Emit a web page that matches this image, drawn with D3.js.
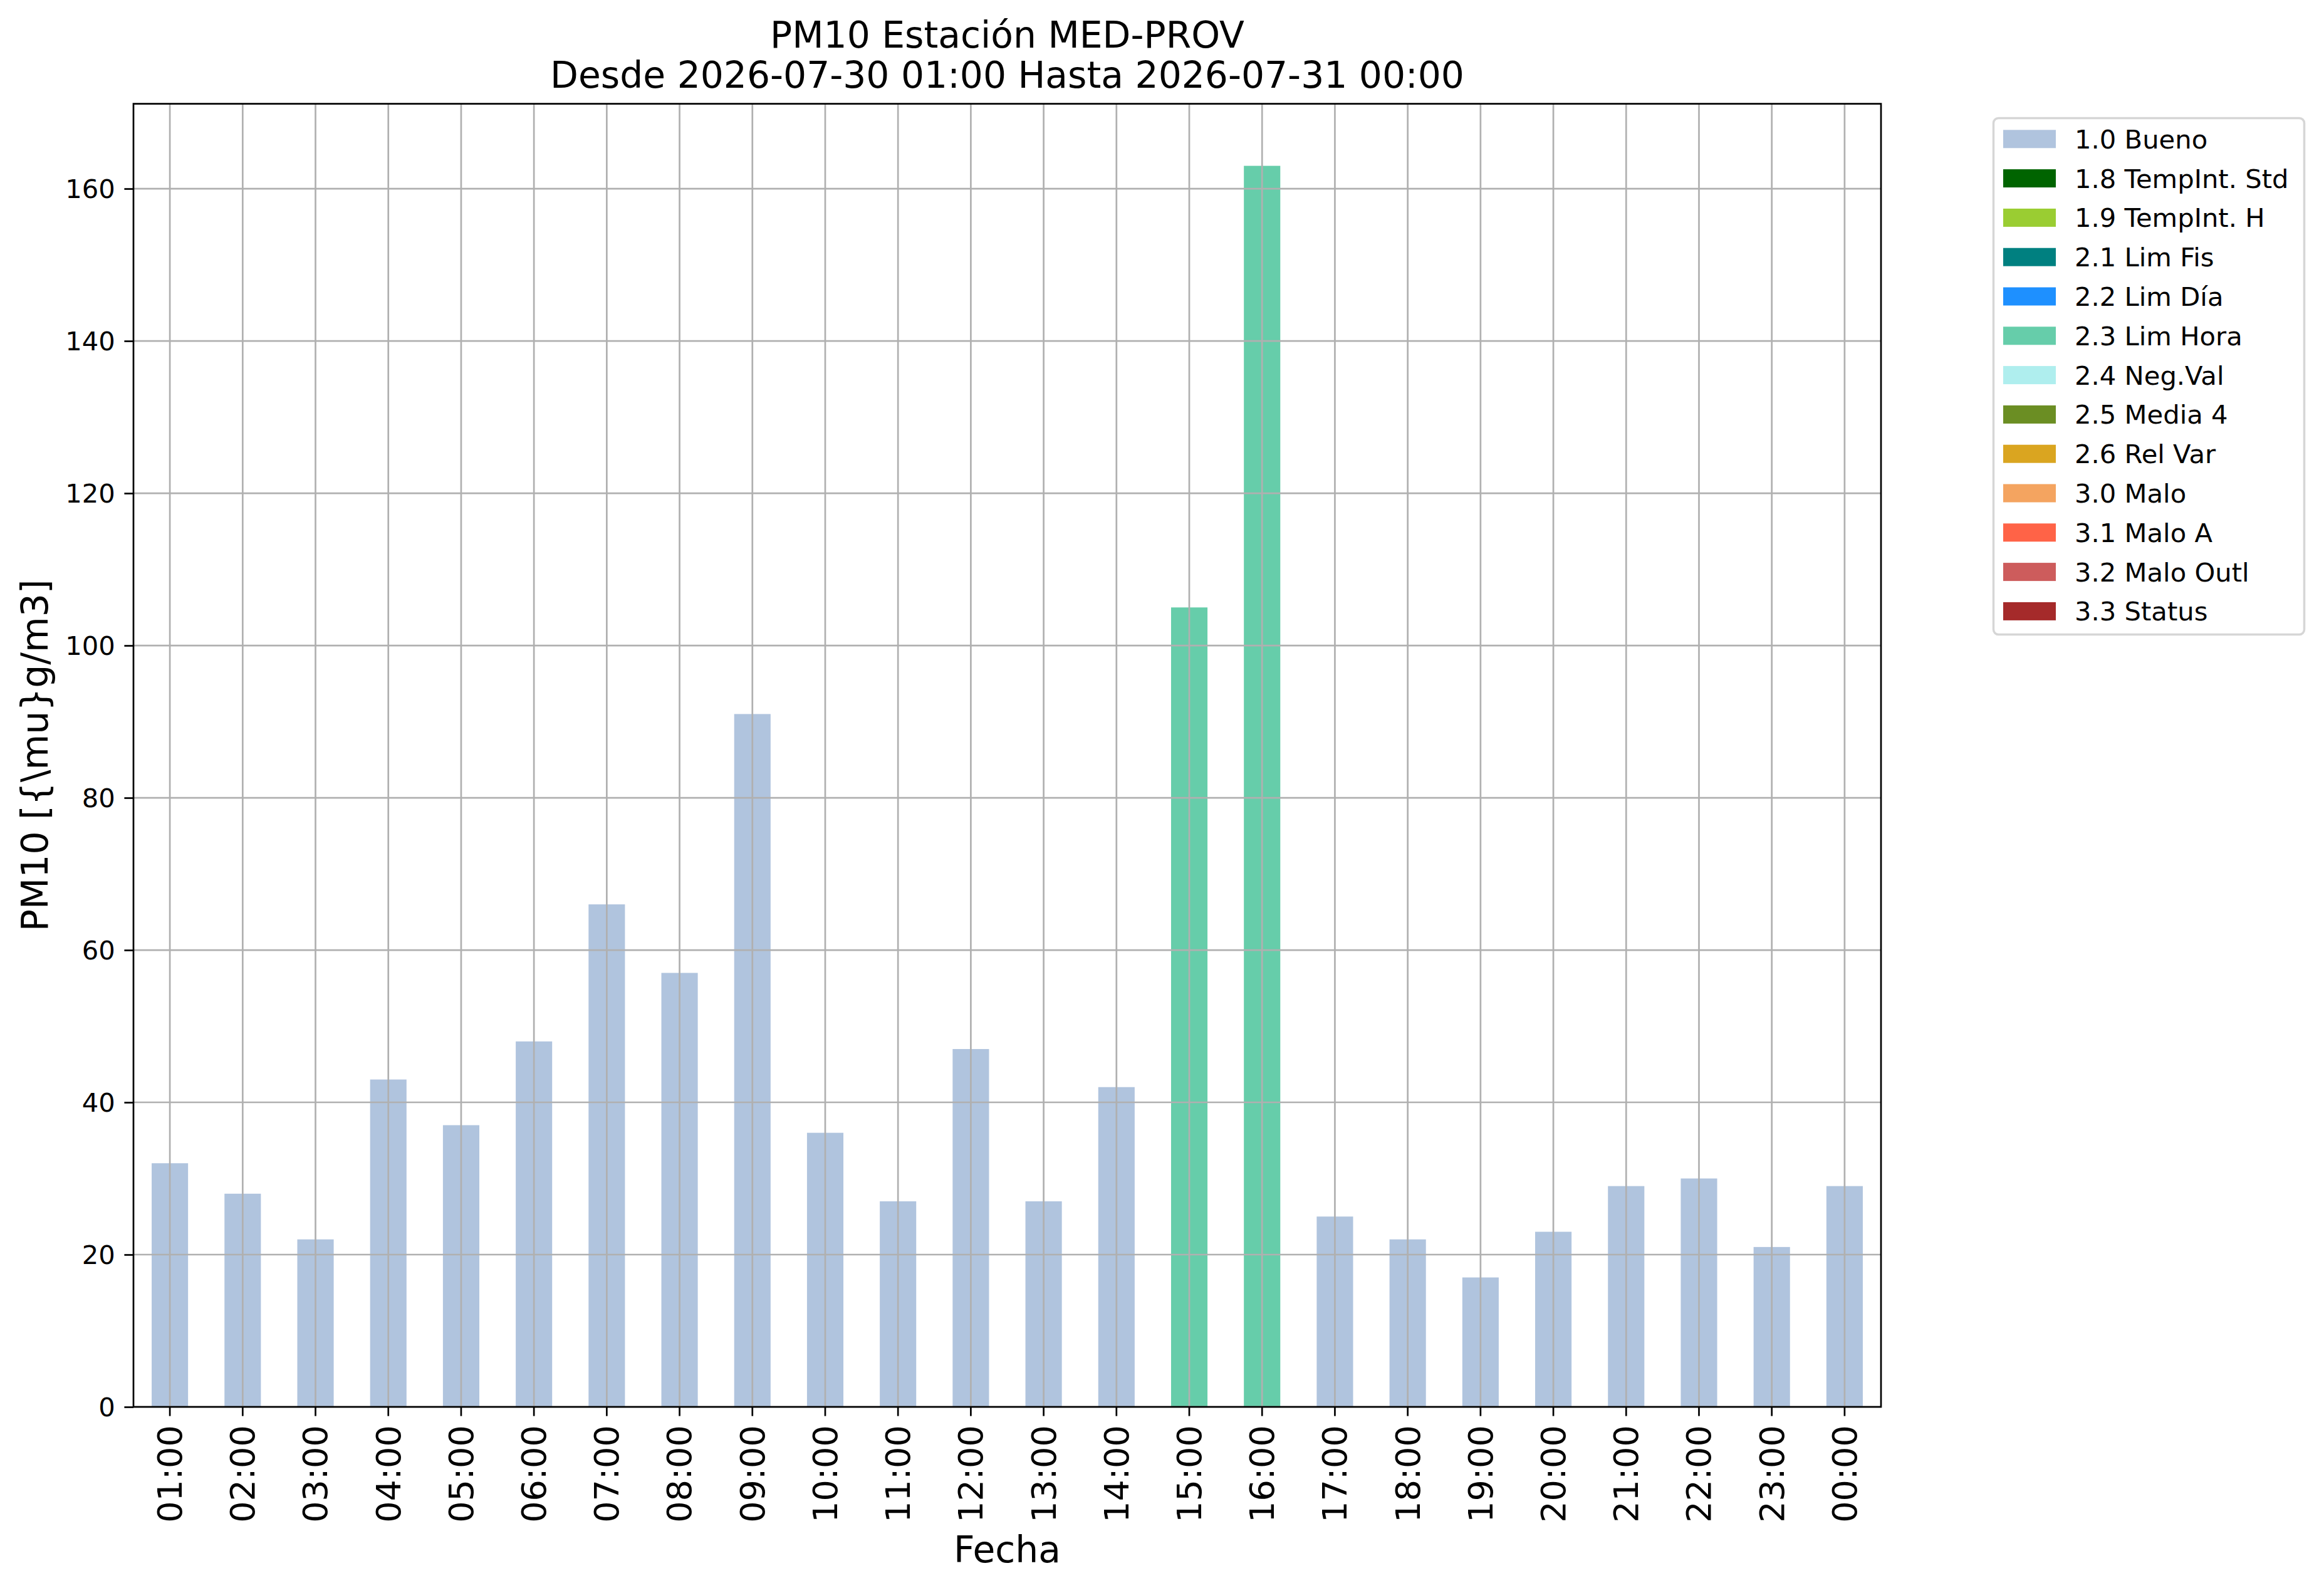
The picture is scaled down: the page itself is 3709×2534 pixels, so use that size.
<!DOCTYPE html>
<html>
<head>
<meta charset="utf-8">
<script src="https://cdn.jsdelivr.net/npm/d3@7"></script>
<style>
  html, body { margin: 0; padding: 0; background: #ffffff; }
  text { font-family: "DejaVu Sans", sans-serif; fill: #000; }
</style>
</head>
<body>
<svg id="chart" width="3709" height="2534"></svg>
<script>
// ---- data ----
const hours = ["01:00","02:00","03:00","04:00","05:00","06:00","07:00","08:00","09:00","10:00","11:00","12:00",
               "13:00","14:00","15:00","16:00","17:00","18:00","19:00","20:00","21:00","22:00","23:00","00:00"];
const pm10 = [32, 28, 22, 43, 37, 48, 66, 57, 91, 36, 27, 47, 27, 42, 105, 163, 25, 22, 17, 23, 29, 30, 21, 29];
const flags = ["1.0 Bueno","1.0 Bueno","1.0 Bueno","1.0 Bueno","1.0 Bueno","1.0 Bueno","1.0 Bueno","1.0 Bueno",
               "1.0 Bueno","1.0 Bueno","1.0 Bueno","1.0 Bueno","1.0 Bueno","1.0 Bueno","2.3 Lim Hora","2.3 Lim Hora",
               "1.0 Bueno","1.0 Bueno","1.0 Bueno","1.0 Bueno","1.0 Bueno","1.0 Bueno","1.0 Bueno","1.0 Bueno"];
const legendLabels = ["1.0 Bueno","1.8 TempInt. Std","1.9 TempInt. H","2.1 Lim Fis","2.2 Lim Día","2.3 Lim Hora",
                      "2.4 Neg.Val","2.5 Media 4","2.6 Rel Var","3.0 Malo","3.1 Malo A","3.2 Malo Outl","3.3 Status"];
const legendColors = ["#B0C4DE","#006400","#9ACD32","#008080","#1E90FF","#66CDAA",
                      "#AFEEEE","#6B8E23","#DAA520","#F4A460","#FF6347","#CD5C5C","#A52A2A"];
const yTicks = [0, 20, 40, 60, 80, 100, 120, 140, 160];
const titleLines = ["PM10 Estación MED-PROV", "Desde 2026-07-30 01:00 Hasta 2026-07-31 00:00"];
const xLabel = "Fecha";
const yLabel = "PM10 [{\\mu}g/m3]";

// ---- layout ----
const L = 213, R = 3002, T = 165.6, B = 2245;
const svg = d3.select("#chart");
svg.append("rect").attr("width", 3709).attr("height", 2534).attr("fill", "#fff");

const x = d3.scaleBand().domain(hours).range([L, R]).paddingInner(0.5).paddingOuter(0.25);
const y = d3.scaleLinear().domain([0, d3.max(pm10) * 1.05]).range([B, T]);
const color = d3.scaleOrdinal().domain(legendLabels).range(legendColors);

const data = hours.map((h, i) => ({ h, v: pm10[i], f: flags[i] }));

// bars
svg.append("g").selectAll("rect").data(data).join("rect")
  .attr("x", d => x(d.h))
  .attr("width", x.bandwidth())
  .attr("y", d => y(d.v))
  .attr("height", d => y(0) - y(d.v))
  .attr("fill", d => color(d.f));

// grid (drawn above bars)
const grid = svg.append("g").attr("stroke", "#b0b0b0").attr("stroke-width", 2.7);
grid.selectAll("line.v").data(hours).join("line").attr("class", "v")
  .attr("x1", d => x(d) + x.bandwidth() / 2).attr("x2", d => x(d) + x.bandwidth() / 2)
  .attr("y1", T).attr("y2", B);
grid.selectAll("line.h").data(yTicks).join("line").attr("class", "h")
  .attr("x1", L).attr("x2", R).attr("y1", d => y(d)).attr("y2", d => y(d));

// axes
const xAxis = d3.axisBottom(x).tickSizeOuter(0).tickSizeInner(14.6).tickPadding(14.6);
const gx = svg.append("g").attr("transform", `translate(0,${B})`).call(xAxis);
gx.select(".domain").remove();
gx.selectAll(".tick line").attr("stroke", "#000").attr("stroke-width", 2.7);
gx.selectAll(".tick text")
  .attr("font-size", 54).attr("font-family", "DejaVu Sans")
  .attr("transform", "rotate(-90)")
  .attr("text-anchor", "end")
  .attr("x", -29.2).attr("y", 0).attr("dy", "0.35em");

const yAxis = d3.axisLeft(y).tickValues(yTicks).tickSizeOuter(0).tickSizeInner(14.6).tickPadding(14.6).tickFormat(d3.format("d"));
const gy = svg.append("g").attr("transform", `translate(${L},0)`).call(yAxis);
gy.select(".domain").remove();
gy.selectAll(".tick line").attr("stroke", "#000").attr("stroke-width", 2.7);
gy.selectAll(".tick text").attr("font-size", 41.7).attr("font-family", "DejaVu Sans").attr("dy", "0.35em");

// frame
svg.append("rect").attr("x", L).attr("y", T).attr("width", R - L).attr("height", B - T)
  .attr("fill", "none").attr("stroke", "#000").attr("stroke-width", 2.7);

// titles
const cx = (L + R) / 2;
svg.append("text").attr("x", cx).attr("y", 76).attr("text-anchor", "middle").attr("font-size", 58.3).text(titleLines[0]);
svg.append("text").attr("x", cx).attr("y", 140).attr("text-anchor", "middle").attr("font-size", 58.3).text(titleLines[1]);
svg.append("text").attr("x", cx).attr("y", 2492.7).attr("text-anchor", "middle").attr("font-size", 58.3).text(xLabel);
svg.append("text").attr("transform", `translate(76,${(T + B) / 2}) rotate(-90)`)
  .attr("text-anchor", "middle").attr("font-size", 58.3).text(yLabel);

// legend
const lg = svg.append("g");
lg.append("rect").attr("x", 3181.5).attr("y", 188.5).attr("width", 496).attr("height", 824)
  .attr("rx", 8).attr("ry", 8).attr("fill", "#fff").attr("stroke", "#d6d6d6").attr("stroke-width", 3.5);
const rows = lg.selectAll("g.row").data(legendLabels).join("g").attr("class", "row")
  .attr("transform", (d, i) => `translate(0,${221.8 + i * 62.8})`);
rows.append("rect").attr("x", 3197).attr("y", -14.5).attr("width", 84).attr("height", 29)
  .attr("fill", (d, i) => legendColors[i]);
rows.append("text").attr("x", 3311).attr("y", 0).attr("dy", "0.36em").attr("font-size", 41.7).text(d => d);
</script>
</body>
</html>
